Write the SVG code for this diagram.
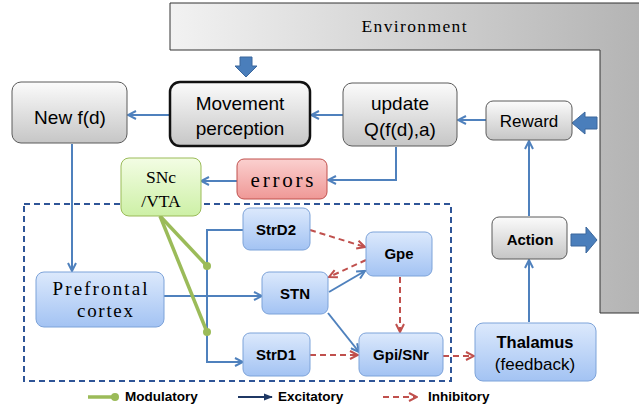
<svg xmlns="http://www.w3.org/2000/svg" width="639" height="407" viewBox="0 0 639 407">
<defs>
<linearGradient id="env" gradientUnits="userSpaceOnUse" x1="170" y1="0" x2="639" y2="0"><stop offset="0" stop-color="#f2f2f2"/><stop offset="1" stop-color="#b4b4b4"/></linearGradient>
<linearGradient id="gray" x1="0" y1="0" x2="0" y2="1"><stop offset="0" stop-color="#fbfbfb"/><stop offset="1" stop-color="#c6c6c6"/></linearGradient>
<linearGradient id="blue" x1="0" y1="0" x2="0" y2="1"><stop offset="0" stop-color="#dce9fc"/><stop offset="1" stop-color="#a3c3f3"/></linearGradient>
<linearGradient id="red" x1="0" y1="0" x2="0" y2="1"><stop offset="0" stop-color="#fbd0cf"/><stop offset="1" stop-color="#ef9896"/></linearGradient>
<linearGradient id="green" x1="0" y1="0" x2="0" y2="1"><stop offset="0" stop-color="#f3fde4"/><stop offset="1" stop-color="#cdf0a6"/></linearGradient>
<marker id="ab" viewBox="0 0 10 10" refX="9" refY="5" markerWidth="10" markerHeight="10" orient="auto" markerUnits="userSpaceOnUse"><path d="M1,1 L9,5 L1,9" fill="none" stroke="#4f81bd" stroke-width="2"/></marker>
<marker id="ar" viewBox="0 0 10 10" refX="9" refY="5" markerWidth="10" markerHeight="10" orient="auto" markerUnits="userSpaceOnUse"><path d="M1,1 L9,5 L1,9" fill="none" stroke="#c0504d" stroke-width="2"/></marker>
<marker id="an" viewBox="0 0 10 10" refX="9" refY="5" markerWidth="9" markerHeight="9" orient="auto" markerUnits="userSpaceOnUse"><path d="M0,1 L10,5 L0,9 Z" fill="#1f3864"/></marker>
<style>
.g{fill:url(#gray);stroke:#5a5a5a;stroke-width:1}
.b{fill:url(#blue);stroke:#7da3d9;stroke-width:1}
.s{font-family:"Liberation Sans",Arial,sans-serif;fill:#000;text-anchor:middle}
.m{font-family:"Liberation Serif","Times New Roman",serif;fill:#000;text-anchor:middle}
.bd{font-family:"Liberation Sans",Arial,sans-serif;font-weight:bold;font-size:15px;fill:#000;text-anchor:middle}
.ex{fill:none;stroke:#4f81bd;stroke-width:2;marker-end:url(#ab)}
.in{fill:none;stroke:#c0504d;stroke-width:2;stroke-dasharray:6,4;marker-end:url(#ar)}
.mo{fill:none;stroke:#9bbb59;stroke-width:3.5}
.blk{fill:#4a7ebb;stroke:#3b679c;stroke-width:1}
.lg{font-family:"Liberation Sans",Arial,sans-serif;font-weight:bold;font-size:13.5px;fill:#000}
</style>
</defs>

<g id="environment">
<path d="M170,3 L640,3 L640,313 L600,313 L600,50 L170,50 Z" fill="url(#env)" stroke="#333" stroke-width="1"/>
<text class="m" x="414" y="32" font-size="17.5" textLength="105" lengthAdjust="spacing">Environment</text>
</g>

<g id="blockarrows">
<path class="blk" d="M240,57 L252,57 L252,66 L257,66 L246,77 L235,66 L240,66 Z"/>
<path class="blk" d="M597,117 L585,117 L585,112 L572,123 L585,134 L585,129 L597,129 Z"/>
<path class="blk" d="M571,234 L586,234 L586,227 L597,240 L586,253 L586,246 L571,246 Z"/>
</g>

<g id="region">
<rect x="24" y="204" width="427" height="177" fill="none" stroke="#2f5597" stroke-width="2" stroke-dasharray="6,4"/>
</g>

<g id="connectors">
<line class="ex" x1="170" y1="115" x2="128" y2="115"/>
<line class="ex" x1="343" y1="115" x2="311" y2="115"/>
<line class="ex" x1="486" y1="120" x2="458" y2="120"/>
<line class="ex" x1="529" y1="216" x2="529" y2="141"/>
<line class="ex" x1="529" y1="322" x2="529" y2="260"/>
<polyline class="ex" points="396,147 396,180 328,180"/>
<line class="ex" x1="237" y1="181" x2="201" y2="181"/>
<line class="ex" x1="72" y1="144" x2="72" y2="271"/>
<line class="ex" x1="164" y1="296" x2="262" y2="296"/>
<polyline class="ex" points="243,230 207,230 207,362 243,362"/>
<line class="ex" x1="329" y1="292" x2="365" y2="271"/>
<line class="ex" x1="328" y1="313" x2="359" y2="352"/>
<line class="in" x1="310" y1="230" x2="365" y2="247"/>
<line class="in" x1="366" y1="260" x2="329" y2="277"/>
<line class="in" x1="400" y1="277" x2="400" y2="332"/>
<line class="in" x1="310" y1="355" x2="358" y2="355"/>
<line class="in" x1="443" y1="356" x2="474" y2="356"/>
<line class="mo" x1="160" y1="216" x2="207" y2="266"/>
<line class="mo" x1="160" y1="216" x2="207" y2="332"/>
<circle cx="207" cy="266" r="4" fill="#9bbb59"/>
<circle cx="207" cy="332" r="4" fill="#9bbb59"/>
</g>

<g id="movement">
<rect x="170" y="82" width="140" height="64" rx="10" fill="url(#gray)" stroke="#111" stroke-width="2.5"/>
<text class="s" x="240" y="110" font-size="19">Movement</text>
<text class="s" x="240" y="135" font-size="19">perception</text>
</g>
<g id="newfd">
<rect class="g" x="12" y="82" width="115" height="61" rx="9"/>
<text class="s" x="70" y="124" font-size="19">New f(d)</text>
</g>
<g id="update">
<rect class="g" x="343" y="83" width="114" height="63" rx="9"/>
<text class="s" x="400" y="110" font-size="19">update</text>
<text class="s" x="400" y="136" font-size="19">Q(f(d),a)</text>
</g>
<g id="reward">
<rect class="g" x="486" y="101" width="86" height="39" rx="7"/>
<text class="s" x="529" y="127" font-size="17">Reward</text>
</g>
<g id="action">
<rect class="g" x="492" y="217" width="75" height="42" rx="7"/>
<text class="bd" x="530" y="245" font-size="14.5">Action</text>
</g>
<g id="thalamus">
<rect class="b" x="475" y="323" width="121" height="58" rx="8"/>
<text class="bd" x="535" y="348" style="font-size:16.5px">Thalamus</text>
<text class="s" x="535" y="370" font-size="17">(feedback)</text>
</g>
<g id="errors">
<rect x="237" y="159" width="90" height="40" rx="7" fill="url(#red)" stroke="#c0504d" stroke-width="1"/>
<text class="m" x="282" y="187" font-size="21" textLength="63" lengthAdjust="spacing">errors</text>
</g>
<g id="snc">
<rect x="121" y="158" width="80" height="58" rx="8" fill="url(#green)" stroke="#9bbb59" stroke-width="1"/>
<text class="m" x="161" y="183" font-size="17.5">SNc</text>
<text class="m" x="161" y="207" font-size="17.5">/VTA</text>
</g>
<g id="prefrontal">
<rect class="b" x="36" y="272" width="128" height="55" rx="8"/>
<text class="m" x="100" y="295" font-size="19" textLength="95" lengthAdjust="spacing">Prefrontal</text>
<text class="m" x="105" y="317" font-size="19" textLength="56" lengthAdjust="spacing">cortex</text>
</g>
<g id="strd2">
<rect class="b" x="243" y="208" width="67" height="42" rx="7"/>
<text class="bd" x="276" y="235">StrD2</text>
</g>
<g id="stn">
<rect class="b" x="262" y="272" width="66" height="42" rx="7"/>
<text class="bd" x="295" y="299">STN</text>
</g>
<g id="strd1">
<rect class="b" x="243" y="333" width="67" height="43" rx="7"/>
<text class="bd" x="276" y="360">StrD1</text>
</g>
<g id="gpe">
<rect class="b" x="366" y="232" width="66" height="44" rx="7"/>
<text class="bd" x="399" y="259">Gpe</text>
</g>
<g id="gpi">
<rect class="b" x="359" y="333" width="84" height="43" rx="7"/>
<text class="bd" x="401" y="360">Gpi/SNr</text>
</g>

<g id="legend">
<line x1="88" y1="397" x2="113" y2="397" stroke="#9bbb59" stroke-width="3.5"/>
<circle cx="115" cy="397" r="4" fill="#9bbb59"/>
<text class="lg" x="125" y="401">Modulatory</text>
<line x1="238" y1="397" x2="272" y2="397" stroke="#1f3864" stroke-width="2" marker-end="url(#an)"/>
<text class="lg" x="278" y="401">Excitatory</text>
<line x1="383" y1="397" x2="417" y2="397" class="in"/>
<text class="lg" x="428" y="401">Inhibitory</text>
</g>
</svg>
